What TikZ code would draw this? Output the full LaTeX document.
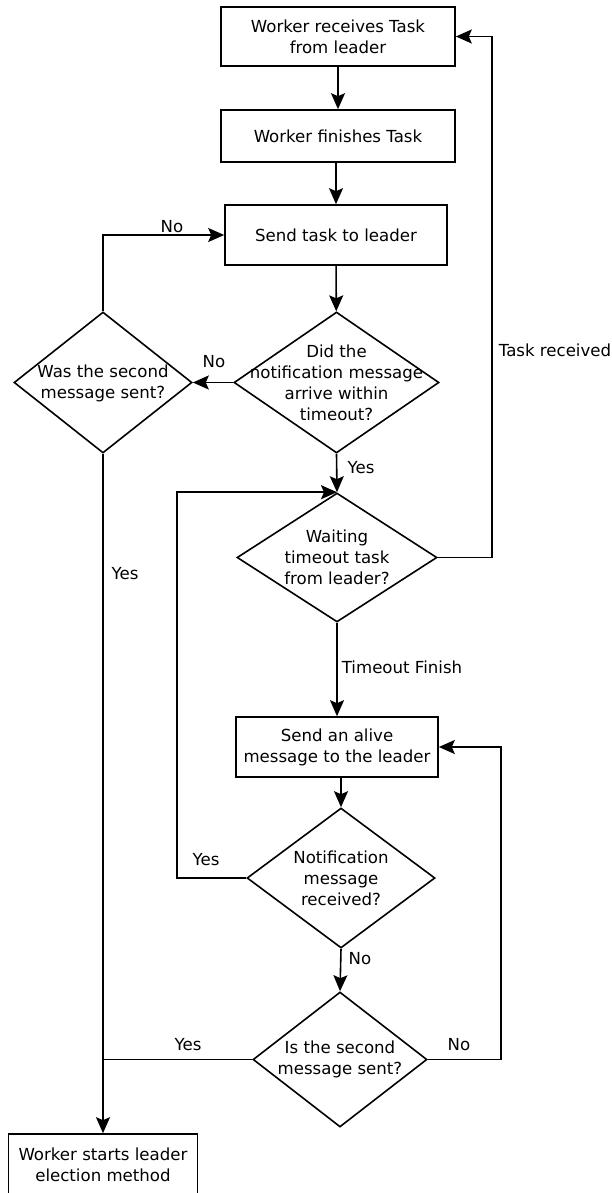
\documentclass[tikz,border=0pt]{standalone}
\usepackage{fontspec}
\setmainfont{DejaVu Sans}
\usetikzlibrary{shapes.geometric,arrows.meta}
\begin{document}
\begin{tikzpicture}[x=1pt,y=-1pt,
  every node/.style={font=\fontsize{16.6}{21}\selectfont},
  box/.style={draw,line width=1.6pt,inner sep=0pt,align=center},
  dia/.style={draw,diamond,line width=1.6pt,inner sep=0pt},
  arr/.style={line width=1.6pt,-{Stealth[length=16pt,width=14pt,inset=3pt]}},
  ln/.style={line width=1.6pt},
  lbl/.style={inner sep=0pt}]
\useasboundingbox (0,0) rectangle (612,1193);
\clip (0,0) rectangle (612,1193);
% boxes
\node[box,minimum width=234pt,minimum height=59pt] (b1) at (338,36.5) {Worker receives Task\\from leader};
\node[box,minimum width=234pt,minimum height=52pt] (b2) at (338,136) {Worker finishes Task};
\node[box,minimum width=222pt,minimum height=60pt] (b3) at (336,235) {Send task to leader};
\node[box,minimum width=202pt,minimum height=60pt] (b4) at (337,747) {Send an alive\\message to the leader};
\node[box,minimum width=189pt,minimum height=80pt] (b6) at (103,1174) {};
\node[lbl,align=center] (b6t) at (103,1164.5) {Worker starts leader\\election method};
% diamonds
\node[dia,minimum width=205pt,minimum height=141pt] (d1) at (336.5,382.5) {};
\node[lbl,align=center] (d1t) at (336.5,382.5) {Did the\\notification message\\arrive within\\timeout?};
\node[dia,minimum width=178pt,minimum height=141pt] (d2) at (103,382.5) {};
\node[lbl,align=center] (d2t) at (103,383) {Was the second\\message sent?};
\node[dia,minimum width=200pt,minimum height=129pt] (d3) at (337,557.5) {};
\node[lbl,align=center] (d3t) at (337,557.5) {Waiting\\timeout task\\from leader?};
\node[dia,minimum width=188pt,minimum height=140pt] (d4) at (341,878) {};
\node[lbl,align=center] (d4t) at (341,878) {Notification\\message\\received?};
\node[dia,minimum width=174pt,minimum height=135pt] (d5) at (340,1059.5) {};
\node[lbl,align=center] (d5t) at (340,1059.5) {Is the second\\message sent?};
% connectors
\draw[arr] (b1) -- (b2);
\draw[arr] (b2.south -| b3.north) -- (b3.north);
\draw[arr] (b3) -- (d1);
\draw[arr] (d1.west) -- (d2.east);
\draw[arr] (d2.north) |- (b3.west);
\draw[arr] (d1.south) -- (d3.north);
\draw[arr] (d3.east) -- ++(54,0) |- (b1.east);
\draw[arr] (d3.south) -- (d3.south |- b4.north);
\draw[arr] (b4.south -| d4.north) -- (d4.north);
\draw[arr] (d4.west) -- ++(-69,0) |- (d3.north);
\draw[arr] (d4.south) -- (d5.north);
\draw[arr] (d5.east) -- ++(73,0) |- (b4.east);
\coordinate (j) at (d5.west -| d2.south);
\draw[ln] (d5.west) -- (j);
\draw[arr] (d2.south) -- (b6.north);
% labels
\node[lbl] (l1) at (214,362) {No};
\node[lbl] (l2) at (172,227) {No};
\node[lbl] (l3) at (125,574) {Yes};
\node[lbl] (l4) at (361,468) {Yes};
\node[lbl] (l5) at (555,350) {Task received};
\node[lbl] (l6) at (402,667) {Timeout Finish};
\node[lbl] (l7) at (206,860) {Yes};
\node[lbl] (l8) at (360,959) {No};
\node[lbl] (l9) at (459,1045) {No};
\node[lbl] (l10) at (188,1045) {Yes};
\end{tikzpicture}
\end{document}
